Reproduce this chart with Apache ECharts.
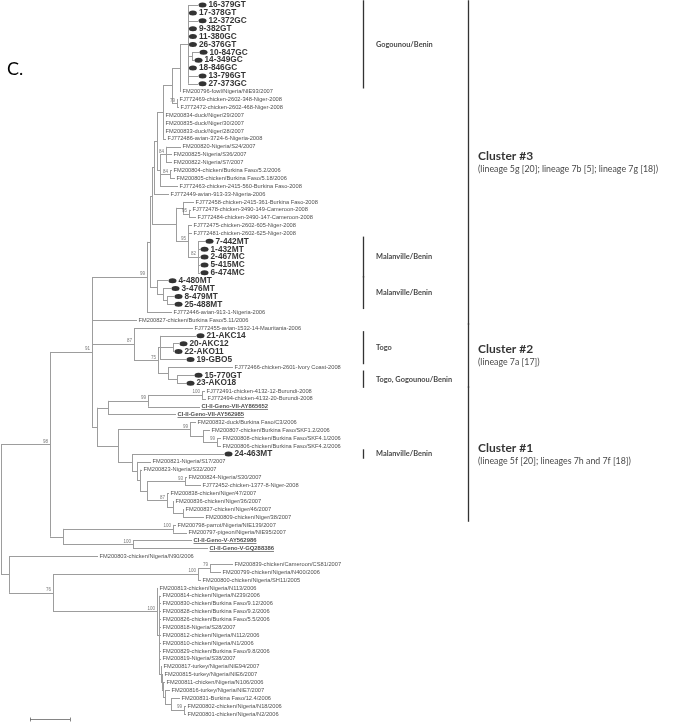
<!DOCTYPE html>
<html><head><meta charset="utf-8">
<script src="https://cdn.jsdelivr.net/npm/echarts@6/dist/echarts.min.js"></script>
<style>html,body{margin:0;padding:0;background:#fff}#c{width:691px;height:727px}</style>
</head><body><div id="c"></div>
<script>
// ---------------- DATA (Newick pieces: name:branchLength, internal labels = bootstrap) -------------
const gogounouClade = "(16-379GT:0.005,17-378GT:0.0002,12-372GC:0.005,9-382GT:0.0002,11-380GC:0.0002,26-376GT:0.0002,(10-847GC:0.0035,14-349GC:0.001):0.002,18-846GC:0.0002,13-796GT:0.005,27-373GC:0.005)";
const nigerDuckClade = "(((" + gogounouClade + ":0.004,FM200796-fowl/Nigeria/NIE93/2007:0.0005):0.004,(FJ772469-chicken-2602-348-Niger-2008:0.0005,FJ772472-chicken-2602-468-Niger-2008:0.001)79:0.0025):0.0045,FM200834-duck/Niger/29/2007:0.0005,FM200835-duck/Niger/30/2007:0.0005,FM200833-duck/Niger/28/2007:0.0005,FJ772486-avian-3724-6-Nigeria-2008:0.0015)";
const nigeriaBurkinaClade = "((FM200820-Nigeria/S24/2007:0.0075,FM200825-Nigeria/S36/2007:0.003,FM200822-Nigeria/S7/2007:0.003)84:0.003,(FM200804-chicken/Burkina Faso/5.2/2006:0.001,FM200805-chicken/Burkina Faso/5.18/2006:0.0025)84:0.005,FJ772463-chicken-2415-560-Burkina Faso-2008:0.009)";
const malanvilleClade1 = "((FJ772458-chicken-2415-361-Burkina Faso-2008:0.0055,(FJ772478-chicken-3490-149-Cameroon-2008:0.001,FJ772484-chicken-3490-147-Cameroon-2008:0.0035)95:0.003):0.0035,(FJ772475-chicken-2602-605-Niger-2008:0.002,FJ772481-chicken-2602-625-Niger-2008:0.002,(7-442MT:0.0035,1-432MT:0.001,2-467MC:0.001,5-415MC:0.001,6-474MC:0.001)82:0.005)95:0.006)";
const malanvilleClade2 = "(4-480MT:0.0055,(3-476MT:0.004,(8-479MT:0.0035,25-488MT:0.0035):0.002):0.003)";
const cluster3 = "(((((" + nigerDuckClade + ":0.003," + nigeriaBurkinaClade + ":0.0015):0.0015,FJ772449-avian-913-33-Nigeria-2006:0.0075):0.001," + malanvilleClade1 + ":0.012):0.001," + malanvilleClade2 + ":0.0035):0.0015,FJ772446-avian-913-1-Nigeria-2006:0.0125)99";
const cluster2 = "(FJ772455-avian-1532-14-Mauritania-2006:0.0295,((21-AKC14:0.018,(20-AKC12:0.003,22-AKO11:0.0005):0.0065,19-GBO5:0.013):0.001,(FJ772466-chicken-2601-Ivory Coast-2008:0.0325,(15-770GT:0.0085,23-AKO18:0.0045):0.0045):0.005)75:0.012)87";
const genoVIIClade = "(((FJ772491-chicken-4132-12-Burundi-2008:0.0015,FJ772494-chicken-4132-20-Burundi-2008:0.002)100:0.027,CI-II-Geno-VII-AY865652:0.026)99:0.02,CI-II-Geno-VII-AY562985:0.034)";
const burkinaClade = "(FM200832-duck/Burkina Faso/C3/2006:0.003,(FM200807-chicken/Burkina Faso/SKF1.2/2006:0.0035,(FM200808-chicken/Burkina Faso/SKF4.1/2006:0.002,FM200806-chicken/Burkina Faso/SKF4.2/2006:0.002)99:0.007):0.0065)99";
const nigerClade = "(24-463MT:0.046,(FM200821-Nigeria/S17/2007:0.007,(FM200823-Nigeria/S32/2007:0.001,((FM200824-Nigeria/S30/2007:0.001,FJ772452-chicken-1377-8-Niger-2008:0.008)93:0.019,(FM200838-chicken/Niger/47/2007:0.001,(FM200836-chicken/Niger/36/2007:0.0005,(FM200837-chicken/Niger/46/2007:0.0005,FM200809-chicken/Niger/38/2007:0.0105):0.005):0.003)87:0.01):0.0035):0.0015):0.0025)";
const cluster1 = "(" + genoVIIClade + ":0.0055,(" + burkinaClade + ":0.036," + nigerClade + ":0.007):0.0105)";
const genoVClade = "((FM200798-parrot/Nigeria/NIE139/2007:0.0015,FM200797-pigeon/Nigeria/NIE95/2007:0.007)100:0.055,(CI-II-Geno-V-AY562986:0.0295,CI-II-Geno-V-GQ288386:0.0375)100:0.035)";
const nigeriaBigClade = "(FM200813-chicken/Nigeria/N113/2006:0.0005,(FM200814-chicken/Nigeria/N239/2006:0.001,FM200830-chicken/Burkina Faso/9.12/2006:0.001,FM200828-chicken/Burkina Faso/9.2/2006:0.001,FM200826-chicken/Burkina Faso/5.5/2006:0.001,FM200818-Nigeria/S28/2007:0.001,FM200812-chicken/Nigeria/N112/2006:0.001,FM200810-chicken/Nigeria/N1/2006:0.001,FM200829-chicken/Burkina Faso/9.8/2006:0.001,FM200819-Nigeria/S38/2007:0.001,(FM200817-turkey/Nigeria/NIE94/2007:0.0005,(FM200815-turkey/Nigeria/NIE6/2007:0.0005,(FM200811-chicken/Nigeria/N106/2006:0.001,(FM200816-turkey/Nigeria/NIE7/2007:0.0025,(FM200831-Burkina Faso/12.4/2006:0.0045,(FM200802-chicken/Nigeria/N18/2006:0.001,FM200801-chicken/Nigeria/N2/2006:0.001)99:0.0065):0.003):0.001):0.0005):0.0005):0.001):0.001)100";
const outgroupClade = "(FM200803-chicken/Nigeria/N90/2006:0.0445,(((FM200839-chicken/Cameroon/CS81/2007:0.0115,FM200799-chicken/Nigeria/N400/2006:0.0055)79:0.006,FM200800-chicken/Nigeria/SH11/2005:0.0015)100:0.0725," + nigeriaBigClade + ":0.052)76:0.022)";
const treeNewick = "(((" + cluster3 + ":0.0275,FM200827-chicken/Burkina Faso/5.11/2006:0.0225," + cluster2 + ":0.021," + cluster1 + ":0.0025)91:0.021," + genoVClade + ":0.0065)98:0.0245," + outgroupClade + ":0.004);";

const siteLabels = ['Gogounou/Benin','Malanville/Benin','Malanville/Benin','Togo','Togo, Gogounou/Benin','Malanville/Benin'];
const siteFirst  = ['16-379GT','7-442MT','4-480MT','21-AKC14','15-770GT','24-463MT'];
const siteLast   = ['27-373GC','6-474MC','25-488MT','19-GBO5','23-AKO18','24-463MT'];
const clusterTitles = ['Cluster #3','Cluster #2','Cluster #1'];
const clusterNotes  = ['(lineage 5g [20]; lineage 7b [5]; lineage 7g [18])','(lineage 7a [17])','(lineage 5f [20]; lineages 7h and 7f [18])'];
const clusterFirst  = ['16-379GT','FJ772455-avian-1532-14-Mauritania-2006','FJ772491-chicken-4132-12-Burundi-2008'];
const clusterLast   = ['FM200827-chicken/Burkina Faso/5.11/2006','23-AKO18','FM200809-chicken/Niger/38/2007'];
const scaleBarLength = 0.02;

// ---------------- parse & layout ----------------
function parseNewick(s){
  let i = 0;
  function node(){
    const n = {children:[], name:'', len:0};
    if (s[i] === '('){
      i++;
      n.children.push(node());
      while (s[i] === ','){ i++; n.children.push(node()); }
      i++;
    }
    let name = '';
    while (i < s.length && '(),:;'.indexOf(s[i]) < 0) name += s[i++];
    n.name = name.trim();
    if (s[i] === ':'){
      i++; let num = '';
      while (i < s.length && '(),;'.indexOf(s[i]) < 0) num += s[i++];
      n.len = parseFloat(num);
    }
    return n;
  }
  return node();
}
const root = parseNewick(treeNewick);
let leafCount = 0;
const leaves = [], internals = [];
function layout(n, depth){
  n.x = depth + n.len;
  if (!n.children.length){ n.y = leafCount++; leaves.push(n); }
  else {
    n.children.forEach(c => layout(c, n.x));
    n.y = (n.children[0].y + n.children[n.children.length-1].y) / 2;
    internals.push(n);
  }
}
layout(root, 0);
const leafY = {}; leaves.forEach(l => leafY[l.name] = l.y);

const edges = [];
internals.forEach(n => {
  const f = n.children[0], l = n.children[n.children.length-1];
  edges.push({coords:[[n.x, f.y],[n.x, l.y]]});
  n.children.forEach(c => edges.push({coords:[[n.x, c.y],[c.x, c.y]]}));
});

const isBenin = n => /^\d+-/.test(n);
const isRef = n => /^CI-II/.test(n);
const normalLeaves = leaves.filter(l => !isBenin(l.name) && !isRef(l.name)).map(l => [l.x, l.y, l.name]);
const beninLeaves = leaves.filter(l => isBenin(l.name)).map(l => [l.x, l.y, l.name]);
const refLeaves = leaves.filter(l => isRef(l.name)).map(l => [l.x, l.y, l.name]);
const support = internals.filter(n => n.name !== '').map(n => [n.x, n.y, n.name]);

const FONT = 'Liberation Sans, Arial, sans-serif';
const X_MAX = 0.345, GRID_W = 690;
// underline for reference strains (measured text width converted through the x scale)
const measureCtx = document.createElement('canvas').getContext('2d');
measureCtx.font = 'bold 5.9px Liberation Sans';
const unitsPerPx = X_MAX / GRID_W;
const underlines = refLeaves.map(d => {
  const w = measureCtx.measureText(d[2]).width;
  const x0 = d[0] + 1.5 * unitsPerPx;
  return {coords:[[x0, d[1] + 0.36],[x0 + w * unitsPerPx, d[1] + 0.36]]};
});

const SITE_X = 0.181, CLUSTER_X = 0.2335, PAD = 0.6;
const siteBars = siteLabels.map((t,i) => ({coords:[[SITE_X, leafY[siteFirst[i]]-PAD],[SITE_X, leafY[siteLast[i]]+PAD]]}));
const clusterBars = clusterTitles.map((t,i) => ({coords:[[CLUSTER_X, leafY[clusterFirst[i]]-PAD],[CLUSTER_X, leafY[clusterLast[i]]+PAD]]}));
const siteText = siteLabels.map((t,i) => [SITE_X, (leafY[siteFirst[i]] + leafY[siteLast[i]])/2, t]);
const clusterText = clusterTitles.map((t,i) => [CLUSTER_X, (leafY[clusterFirst[i]] + leafY[clusterLast[i]])/2, t, clusterNotes[i]]);

const SB_X = 0.0145, SB_Y = leafCount - 1 + 0.7;
const scaleBar = [
  {coords:[[SB_X, SB_Y],[SB_X + scaleBarLength, SB_Y]]},
  {coords:[[SB_X, SB_Y-0.25],[SB_X, SB_Y+0.25]]},
  {coords:[[SB_X + scaleBarLength, SB_Y-0.25],[SB_X + scaleBarLength, SB_Y+0.25]]}
];

const chart = echarts.init(document.getElementById('c'), null, {renderer:'canvas'});
chart.setOption({
  animation: false,
  backgroundColor: '#fff',
  grid: {left: 1, right: 0, top: 5, bottom: 13},
  xAxis: {type:'value', min:0, max:X_MAX, show:false},
  yAxis: {type:'value', min:0, max:leafCount-1, inverse:true, show:false},
  graphic: [{type:'text', left: 7, top: 60, style:{text:'C.', font:'18px Lato, sans-serif', fill:'#000'}}],
  series: [
    {type:'lines', coordinateSystem:'cartesian2d', clip:false, silent:true, data: edges,
     lineStyle:{color:'#9d9d9d', width:1, opacity:1}},
    {type:'scatter', silent:true, symbolSize:0, data: normalLeaves,
     label:{show:true, position:'right', distance:1.5, formatter:p=>p.data[2], fontSize:5.7, fontFamily:FONT, color:'#222'}},
    {type:'scatter', silent:true, symbolSize:0, data: refLeaves,
     label:{show:true, position:'right', distance:1.5, formatter:p=>p.data[2], fontSize:5.9, fontWeight:'bold', fontFamily:FONT, color:'#222'}},
    {type:'lines', coordinateSystem:'cartesian2d', clip:false, silent:true, data: underlines,
     lineStyle:{color:'#333', width:0.6, opacity:1}},
    {type:'scatter', silent:true, symbol:'circle', symbolSize:[8,5], symbolOffset:[4.5,0], itemStyle:{color:'#000'}, data: beninLeaves,
     label:{show:true, position:'right', distance:2, formatter:p=>p.data[2], fontSize:8.3, fontWeight:'bold', fontFamily:FONT, color:'#000'}},
    {type:'scatter', silent:true, symbolSize:0, data: support,
     label:{show:true, position:'left', distance:2, offset:[0,-3], formatter:p=>p.data[2], fontSize:4.5, fontFamily:FONT, color:'#555'}},
    {type:'lines', coordinateSystem:'cartesian2d', clip:false, silent:true, data: siteBars.concat(clusterBars),
     lineStyle:{color:'#333', width:1.3, opacity:1}},
    {type:'scatter', silent:true, symbolSize:0, data: siteText,
     label:{show:true, position:'right', distance:13, formatter:p=>p.data[2], fontSize:7.4, fontWeight:'bold', fontFamily:'Lato, sans-serif', color:'#111'}},
    {type:'scatter', silent:true, symbolSize:0, data: clusterText,
     label:{show:true, position:'right', distance:10, formatter:p=>'{t|'+p.data[2]+'}\n{s|'+p.data[3]+'}',
       rich:{t:{fontSize:12, fontWeight:'bold', fontFamily:'Lato, sans-serif', color:'#000', lineHeight:14},
             s:{fontSize:8.8, fontFamily:'Lato, sans-serif', color:'#111', lineHeight:12}}}},
    {type:'lines', coordinateSystem:'cartesian2d', clip:false, silent:true, data: scaleBar,
     lineStyle:{color:'#666', width:0.8, opacity:1}},
    {type:'scatter', silent:true, symbolSize:0, data:[[SB_X + scaleBarLength/2, SB_Y, String(scaleBarLength)]],
     label:{show:true, position:'bottom', distance:1, formatter:p=>p.data[2], fontSize:4.5, fontFamily:FONT, color:'#444'}}
  ]
});
</script></body></html>
